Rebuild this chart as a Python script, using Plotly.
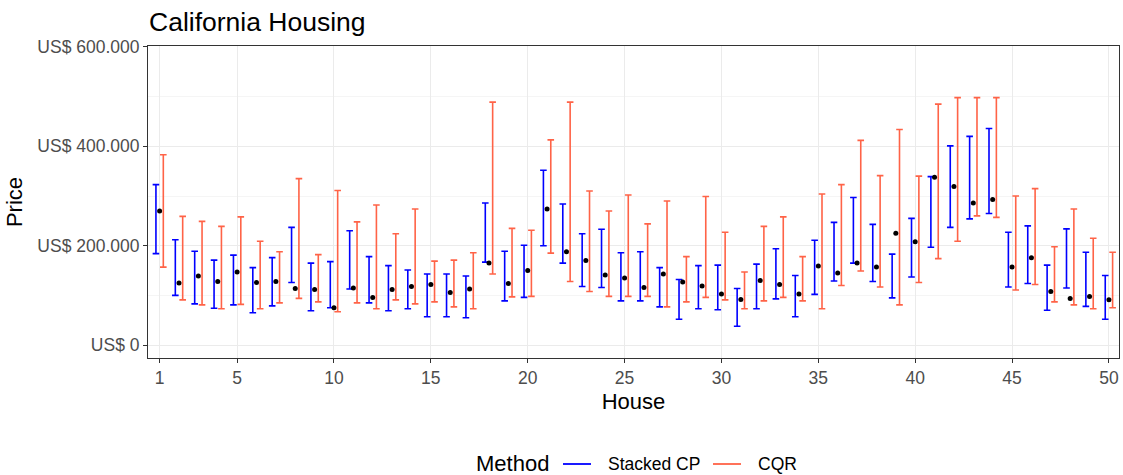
import plotly.graph_objects as go

houses = list(range(1, 51))

cp_upper = [323, 212, 189, 171, 181, 156, 176, 237, 165, 168,
            230, 178, 160, 151, 143, 143, 139, 286, 189, 201,
            352, 284, 224, 233, 186, 188, 156, 132, 160, 161,
            114, 163, 194, 140, 211, 247, 297, 243, 183, 255,
            339, 401, 420, 436, 227, 240, 161, 234, 187, 140]
cp_lower = [184, 100, 83, 74, 81, 65, 79, 126, 69, 75,
            113, 85, 69, 73, 57, 57, 55, 167, 89, 96,
            200, 165, 118, 116, 89, 89, 77, 52, 73, 71,
            38, 73, 93, 57, 102, 129, 165, 128, 95, 137,
            197, 237, 254, 265, 117, 124, 70, 115, 78, 52]
cqr_upper = [383, 259, 249, 239, 258, 209, 188, 335, 182, 311,
             248, 282, 224, 274, 169, 171, 186, 489, 235, 231,
             413, 489, 310, 270, 302, 244, 290, 178, 299, 227,
             147, 239, 258, 178, 304, 323, 412, 341, 434, 340,
             485, 498, 498, 498, 300, 315, 198, 274, 215, 187]
cqr_lower = [157, 91, 81, 73, 82, 73, 85, 94, 87, 67,
             85, 73, 91, 83, 87, 77, 73, 143, 97, 98,
             185, 128, 108, 98, 98, 98, 77, 87, 96, 91,
             73, 89, 96, 89, 73, 120, 149, 117, 81, 126,
             174, 209, 260, 257, 111, 122, 87, 81, 73, 75]
true_price = [270, 125, 139, 128, 147, 126, 128, 114, 112, 75,
              115, 96, 112, 118, 122, 106, 113, 165, 124, 150,
              274, 188, 170, 141, 135, 116, 143, 127, 119, 103,
              92, 130, 122, 103, 159, 145, 165, 157, 225, 208,
              338, 319, 286, 293, 157, 176, 108, 94, 98, 91]

series_names = ["Stacked CP", "CQR"]
series_colors = ["#0000FF", "#FF6347"]
legend_title = "Method"
x_ticks = [1, 5, 10, 15, 20, 25, 30, 35, 40, 45, 50]
y_ticks = [0, 200000, 400000, 600000]
y_tick_labels = ["US$ 0", "US$ 200.000", "US$ 400.000", "US$ 600.000"]

dodge = 0.19
K = 1000
FONT = "Liberation Sans, Arial, sans-serif"

W, H = 1123, 475
ML, MR, MT, MB = 148, 4, 46, 117
PW, PH = W - ML - MR, H - MT - MB


def px(x):
    return (x - ML) / PW


def py(y):
    return (H - MB - y) / PH


fig = go.Figure()

for color, lo, hi, off in [
    (series_colors[0], cp_lower, cp_upper, -dodge),
    (series_colors[1], cqr_lower, cqr_upper, dodge),
]:
    fig.add_trace(go.Scatter(
        x=[h + off for h in houses],
        y=[v * K for v in lo],
        mode="markers",
        marker=dict(size=1, opacity=0, color=color),
        error_y=dict(type="data", symmetric=False,
                     array=[(u - l) * K for u, l in zip(hi, lo)],
                     arrayminus=[0] * len(lo),
                     width=3.3, thickness=1.6, color=color),
        showlegend=False, hoverinfo="skip",
    ))

fig.add_trace(go.Scatter(
    x=houses, y=[v * K for v in true_price], mode="markers",
    marker=dict(color="black", size=5), showlegend=False,
))

# legend drawn below the panel (title, key lines, labels)
LEG_Y = 464
legend_items = [(series_names[0], series_colors[0], 563, 591, 605.5),
                (series_names[1], series_colors[1], 713, 741, 756)]
annotations = [dict(text=legend_title, xref="paper", yref="paper",
                    x=px(474), y=py(LEG_Y - 1), xanchor="left", yanchor="middle",
                    showarrow=False, font=dict(size=22, color="black"))]
shapes = []
for name, color, x0, x1, tx in legend_items:
    shapes.append(dict(type="line", xref="paper", yref="paper",
                       x0=px(x0), x1=px(x1), y0=py(LEG_Y), y1=py(LEG_Y),
                       line=dict(color=color, width=1.8)))
    annotations.append(dict(text=name, xref="paper", yref="paper",
                            x=px(tx), y=py(LEG_Y), xanchor="left", yanchor="middle",
                            showarrow=False, font=dict(size=17.5, color="black")))

axis_common = dict(
    showline=True, linecolor="#333333", linewidth=1, mirror=True,
    ticks="outside", ticklen=4, tickcolor="#333333",
    tickfont=dict(size=17.5, color="#4D4D4D", family=FONT),
    gridcolor="#EBEBEB", gridwidth=1.1, zeroline=False,
)

fig.update_layout(
    width=W, height=H,
    margin=dict(l=ML, r=MR, t=MT, b=MB),
    paper_bgcolor="white", plot_bgcolor="white",
    font=dict(family=FONT, color="black"),
    showlegend=False,
    title=dict(text="California Housing", x=149 / W, xanchor="left",
               y=1 - 22 / H, yanchor="middle",
               font=dict(size=26.5, color="black")),
    xaxis=dict(range=[0.4, 50.52], tickvals=x_ticks,
               title=dict(text="House", font=dict(size=22), standoff=6),
               **axis_common),
    yaxis=dict(range=[-26000, 602000], tickvals=y_ticks, ticktext=y_tick_labels,
               title=dict(text="Price", font=dict(size=22), standoff=8),
               minor=dict(dtick=100000, tick0=0, showgrid=True,
                          gridcolor="#F5F5F5", gridwidth=0.6, ticks=""),
               **axis_common),
    annotations=annotations,
    shapes=shapes,
)

fig.write_html(
    "out.html",
    config={"displayModeBar": False},
    post_script=("document.documentElement.style.margin='0';"
                 "document.body.style.margin='0';"
                 "document.body.style.overflow='hidden';"
                 "document.documentElement.style.overflow='hidden';"),
)
